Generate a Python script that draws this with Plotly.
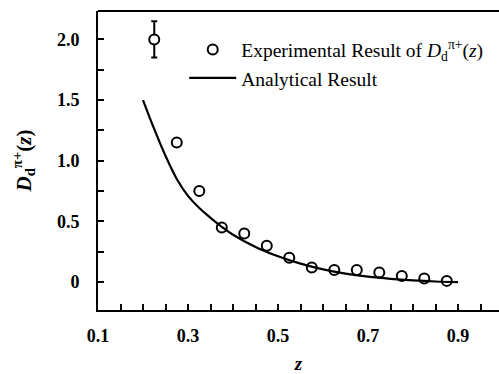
import plotly.graph_objects as go

# Experimental data
exp_z = [0.225, 0.275, 0.325, 0.375, 0.425, 0.475, 0.525, 0.575, 0.625, 0.675, 0.725, 0.775, 0.825, 0.875]
exp_d = [2.00, 1.15, 0.75, 0.45, 0.40, 0.30, 0.20, 0.12, 0.10, 0.10, 0.08, 0.05, 0.03, 0.01]
exp_err = [0.15, 0, 0, 0, 0, 0, 0, 0, 0, 0, 0, 0, 0, 0]

# Analytical curve
ana_z = [0.20, 0.225, 0.25, 0.275, 0.30, 0.325, 0.35, 0.375, 0.40, 0.45, 0.50, 0.55, 0.60, 0.65, 0.70, 0.75, 0.80, 0.85, 0.90]
ana_d = [1.50, 1.26, 1.04, 0.85, 0.71, 0.61, 0.53, 0.456, 0.39, 0.29, 0.213, 0.152, 0.105, 0.07, 0.045, 0.027, 0.014, 0.005, 0.0]

x_ticks = [0.1, 0.3, 0.5, 0.7, 0.9]
x_ticktext = ["0.1", "0.3", "0.5", "0.7", "0.9"]
y_ticks = [0, 0.5, 1.0, 1.5, 2.0]
y_ticktext = ["0", "0.5", "1.0", "1.5", "2.0"]

FONT = "Liberation Serif"

fig = go.Figure()
fig.add_trace(go.Scatter(
    x=exp_z, y=exp_d, mode="markers",
    name="Experimental Result of <i>D</i><sub>d</sub><sup>π+</sup>(<i>z</i>)",
    marker=dict(symbol="circle", size=10, color="white", line=dict(width=2, color="black")),
    error_y=dict(type="data", array=exp_err, visible=True, color="black", thickness=2, width=3),
))
fig.add_trace(go.Scatter(
    x=ana_z, y=ana_d, mode="lines", name="Analytical Result",
    line=dict(color="black", width=2.2, shape="spline", smoothing=1.0),
))

fig.update_layout(
    width=499, height=374,
    margin=dict(l=98, r=0, t=11, b=64),
    paper_bgcolor="white", plot_bgcolor="white",
    font=dict(family=FONT, size=18, color="black"),
    showlegend=True,
    legend=dict(x=0.215, y=0.935, xanchor="left", yanchor="top",
                bgcolor="rgba(0,0,0,0)", font=dict(family=FONT, size=19.5),
                itemwidth=47, tracegroupgap=0),
    xaxis=dict(
        range=[0.1, 0.991], tickvals=x_ticks, ticktext=x_ticktext,
        ticks="inside", ticklen=6, tickwidth=1.5, tickcolor="black",
        showline=True, linecolor="black", linewidth=2, mirror=False,
        showgrid=False, zeroline=False, ticklabelstandoff=8,
        tickfont=dict(family=FONT, size=18, weight="bold"),
        minor=dict(dtick=0.05, tick0=0.1, ticks="inside", ticklen=6, tickwidth=1.5, tickcolor="black", showgrid=False),
        title=dict(text="<i>z</i>", font=dict(family=FONT, size=19, weight="bold"), standoff=14),
    ),
    yaxis=dict(
        range=[-0.23, 2.234], tickvals=y_ticks, ticktext=y_ticktext,
        ticks="inside", ticklen=6, tickwidth=1.5, tickcolor="black",
        showline=True, linecolor="black", linewidth=2, mirror=False,
        showgrid=False, zeroline=False, ticklabelstandoff=13,
        tickfont=dict(family=FONT, size=18, weight="bold"),
        minor=dict(dtick=0.25, tick0=0, ticks="inside", ticklen=6, tickwidth=1.5, tickcolor="black", showgrid=False),
        title=dict(text="<i>D</i><sub>d</sub><sup>π+</sup>(<i>z</i>)", font=dict(family=FONT, size=21, weight="bold"), standoff=20),
    ),
)
# top frame line
fig.add_shape(type="line", xref="paper", yref="paper", x0=0, x1=1, y0=1, y1=1,
              line=dict(color="black", width=2))

fig.write_html("out.html")
